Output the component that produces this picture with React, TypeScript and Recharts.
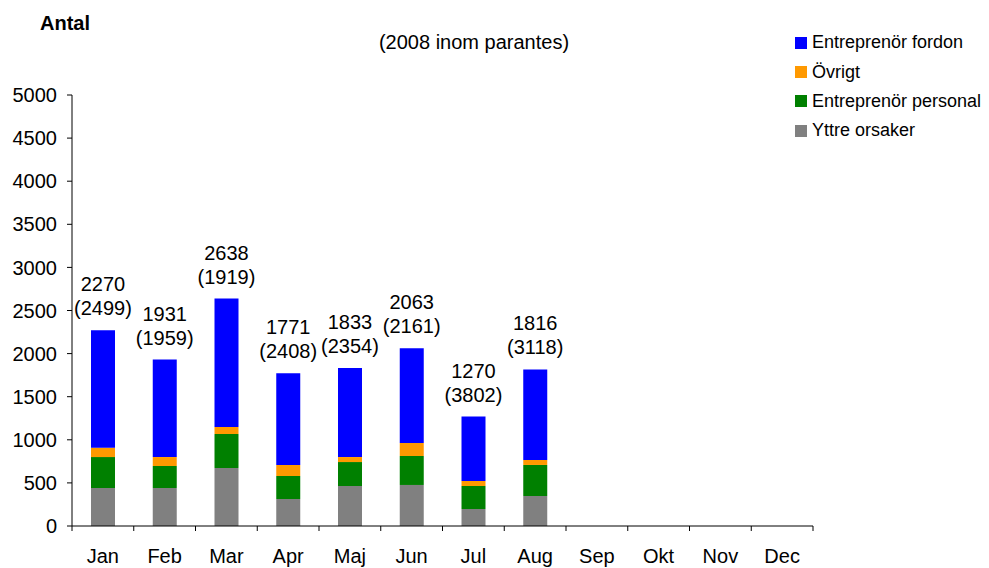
import { BarChart, Bar, XAxis, YAxis, LabelList } from 'recharts';

const months = ['Jan', 'Feb', 'Mar', 'Apr', 'Maj', 'Jun', 'Jul', 'Aug', 'Sep', 'Okt', 'Nov', 'Dec'];
const yttre = [441, 441, 673, 313, 464, 476, 197, 348, null, null, null, null];
const personal = [359, 255, 394, 267, 278, 336, 267, 360, null, null, null, null];
const ovrigt = [108, 104, 82, 128, 58, 151, 58, 58, null, null, null, null];
const fordon = [1362, 1131, 1489, 1063, 1033, 1100, 748, 1050, null, null, null, null];
const totals = [2270, 1931, 2638, 1771, 1833, 2063, 1270, 1816, null, null, null, null];
const prevYear = [2499, 1959, 1919, 2408, 2354, 2161, 3802, 3118, null, null, null, null];
const yTicks = [0, 500, 1000, 1500, 2000, 2500, 3000, 3500, 4000, 4500, 5000];

const series = [
  { key: 'fordon', name: 'Entreprenör fordon', color: '#0000FF' },
  { key: 'ovrigt', name: 'Övrigt', color: '#FF9900' },
  { key: 'personal', name: 'Entreprenör personal', color: '#008000' },
  { key: 'yttre', name: 'Yttre orsaker', color: '#808080' },
];

const data = months.map((m, i) => ({
  month: m,
  yttre: yttre[i],
  personal: personal[i],
  ovrigt: ovrigt[i],
  fordon: fordon[i],
  total: totals[i],
  prev: prevYear[i],
}));

const font = 'Liberation Sans, Arial, sans-serif';
const W = 989;
const H = 568;
const LEFT = 72;
const RIGHT = 176;
const band = (W - LEFT - RIGHT) / months.length;

const MonthTick = (props: any) => {
  const { x, y, payload, index } = props;
  return (
    <g>
      <line x1={x - band / 2} y1={y - 8} x2={x - band / 2} y2={y - 3} stroke="#000" />
      {index === months.length - 1 && (
        <line x1={x + band / 2} y1={y - 8} x2={x + band / 2} y2={y - 3} stroke="#000" />
      )}
      <text x={x} y={y + 29} textAnchor="middle" fontSize={20} fontFamily={font} fill="#000">
        {payload.value}
      </text>
    </g>
  );
};

const TopLabel = (props: any) => {
  const { x, y, width, index } = props;
  if (totals[index] == null) return null;
  const cx = x + width / 2;
  return (
    <g fontFamily={font} fontSize={20} fill="#000" textAnchor="middle">
      <text x={cx} y={y - 39}>{totals[index]}</text>
      <text x={cx} y={y - 15}>({prevYear[index]})</text>
    </g>
  );
};

export default function App() {
  return (
    <div style={{ position: 'absolute', left: 0, top: 0, width: W, height: H, background: '#fff' }}>
      <div style={{ position: 'absolute', left: 40, top: 11, fontFamily: font, fontWeight: 'bold', fontSize: 20, lineHeight: '24px' }}>
        Antal
      </div>
      <div style={{ position: 'absolute', left: 374, width: 200, textAlign: 'center', top: 30, fontFamily: font, fontSize: 20, lineHeight: '24px' }}>
        (2008 inom parantes)
      </div>
      <div style={{ position: 'absolute', left: 795, top: 28, fontFamily: font, fontSize: 18, color: '#000' }}>
        {series.map((s) => (
          <div key={s.key} style={{ display: 'flex', alignItems: 'center', height: 29.4, whiteSpace: 'nowrap' }}>
            <span style={{ width: 12, height: 12, background: s.color, display: 'inline-block', marginRight: 5 }} />
            {s.name}
          </div>
        ))}
      </div>
      <BarChart width={W} height={H} data={data} margin={{ top: 95, right: RIGHT, bottom: 0, left: 0 }} barSize={24}>
        <XAxis
          dataKey="month"
          height={42}
          tick={<MonthTick />}
          tickLine={false}
          axisLine={{ stroke: '#000' }}
          interval={0}
        />
        <YAxis
          width={LEFT}
          domain={[0, 5000]}
          ticks={yTicks}
          interval={0}
          tickSize={5}
          tickMargin={10}
          tickLine={{ stroke: '#000' }}
          axisLine={{ stroke: '#000' }}
          tick={{ fill: '#000', fontSize: 20, fontFamily: font }}
        />
        <Bar dataKey="yttre" name="Yttre orsaker" stackId="a" fill="#808080" isAnimationActive={false} />
        <Bar dataKey="personal" name="Entreprenör personal" stackId="a" fill="#008000" isAnimationActive={false} />
        <Bar dataKey="ovrigt" name="Övrigt" stackId="a" fill="#FF9900" isAnimationActive={false} />
        <Bar dataKey="fordon" name="Entreprenör fordon" stackId="a" fill="#0000FF" isAnimationActive={false}>
          <LabelList dataKey="total" content={<TopLabel />} />
        </Bar>
      </BarChart>
    </div>
  );
}
